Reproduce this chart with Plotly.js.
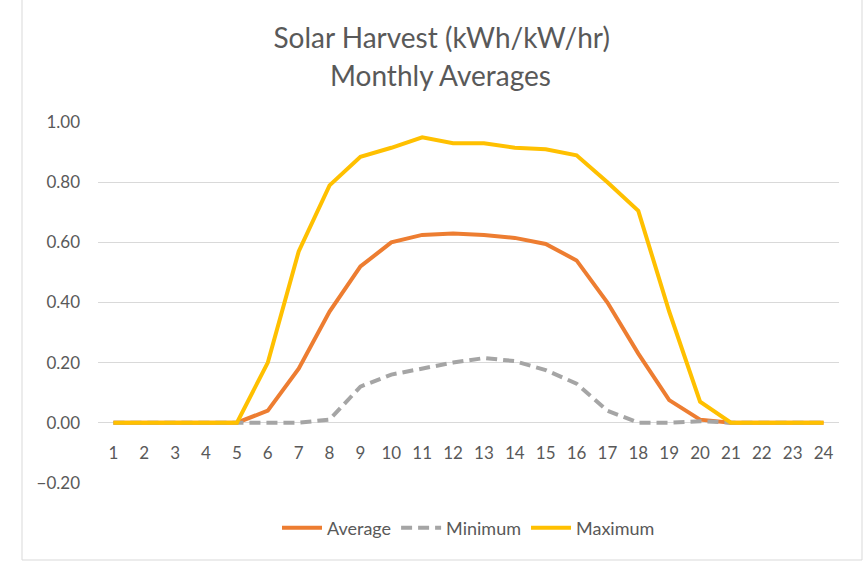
<!DOCTYPE html>
<html>
<head>
<meta charset="utf-8">
<script src="https://cdn.plot.ly/plotly-3.0.1.min.js"></script>
<style>
  html, body { margin: 0; padding: 0; background: #fff; }
  #chart { width: 866px; height: 565px; }
</style>
</head>
<body>
<div id="chart"></div>
<script>
// hours of the day
var hours = ['1','2','3','4','5','6','7','8','9','10','11','12','13','14','15','16','17','18','19','20','21','22','23','24'];

var average = [0, 0, 0, 0, 0, 0.04, 0.18, 0.37, 0.52, 0.60, 0.625, 0.63, 0.625, 0.615, 0.595, 0.54, 0.40, 0.23, 0.075, 0.01, 0, 0, 0, 0];
var minimum = [0, 0, 0, 0, 0, 0, 0, 0.01, 0.12, 0.16, 0.18, 0.20, 0.215, 0.205, 0.175, 0.13, 0.04, 0, 0, 0.005, 0, 0, 0, 0];
var maximum = [0, 0, 0, 0, 0, 0.20, 0.57, 0.79, 0.885, 0.915, 0.95, 0.93, 0.93, 0.915, 0.91, 0.89, 0.80, 0.705, 0.37, 0.07, 0, 0, 0, 0];

var yTicks = [-0.2, 0, 0.2, 0.4, 0.6, 0.8, 1.0];

var textGray = '#595959';

var traces = [
  {
    x: hours, y: average, name: 'Average', type: 'scatter', mode: 'lines',
    line: { color: '#ED7D31', width: 4 }
  },
  {
    x: hours, y: minimum, name: 'Minimum', type: 'scatter', mode: 'lines',
    line: { color: '#A5A5A5', width: 4, dash: '11px,6px' }
  },
  {
    x: hours, y: maximum, name: 'Maximum', type: 'scatter', mode: 'lines',
    line: { color: '#FFC000', width: 4 }
  }
];

var layout = {
  width: 866,
  height: 565,
  paper_bgcolor: '#fff',
  plot_bgcolor: '#fff',
  margin: { l: 98, r: 27, t: 122, b: 82 },
  font: { family: 'Lato, "Open Sans", sans-serif', color: textGray, size: 16 },
  title: {
    text: 'Solar Harvest (kWh/kW/hr)',
    font: { size: 28, color: textGray },
    x: 0.51, xanchor: 'center',
    y: 0.933, yanchor: 'middle'
  },
  annotations: [{
    text: 'Monthly Averages',
    xref: 'paper', yref: 'paper',
    x: 0.462, y: 1.0 + (122 - 75) / 361,
    xanchor: 'center', yanchor: 'middle',
    showarrow: false,
    font: { size: 28, color: textGray }
  }],
  xaxis: {
    type: 'category',
    range: [-0.5, 23.5],
    anchor: 'free',
    position: 0.2 / 1.2,
    showgrid: false,
    showline: false,
    zeroline: false,
    ticks: '',
    ticklabelstandoff: 18,
    tickfont: { size: 17, color: textGray }
  },
  yaxis: {
    range: [-0.2008, 1.0008],
    tickvals: yTicks,
    tickformat: '.2f',
    showgrid: true,
    gridcolor: '#D9D9D9',
    gridwidth: 1,
    zeroline: false,
    showline: false,
    ticks: '',
    ticklabelstandoff: 17,
    tickfont: { size: 17, color: textGray }
  },
  legend: {
    orientation: 'h',
    x: 0.5, xanchor: 'center',
    y: -0.125, yanchor: 'middle',
    font: { size: 18, color: textGray },
    itemwidth: 40,
    tracegroupgap: 0
  },
  shapes: [{
    type: 'rect', xref: 'paper', yref: 'paper',
    x0: (22 - 98) / 741, x1: (862 - 98) / 741,
    y0: (483 - 560) / 361, y1: (483 + 4) / 361,
    line: { color: '#D9D9D9', width: 1 },
    layer: 'below'
  }]
};

Plotly.newPlot('chart', traces, layout, { displayModeBar: false, staticPlot: true });
</script>
</body>
</html>
